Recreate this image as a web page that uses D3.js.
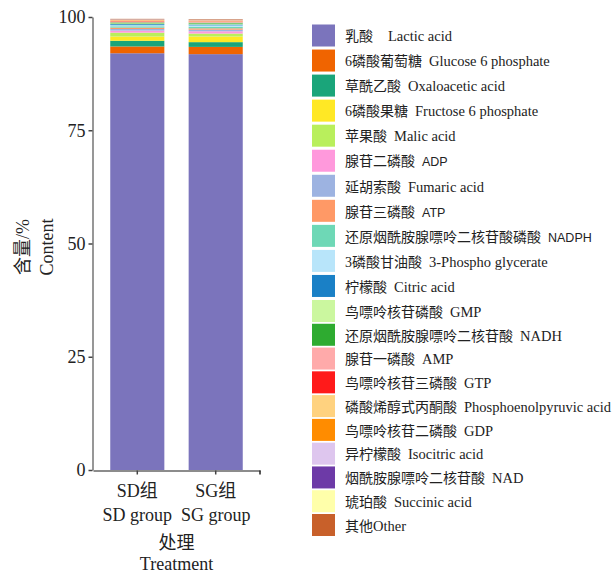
<!DOCTYPE html>
<html>
<head>
<meta charset="utf-8">
<script src="https://cdn.jsdelivr.net/npm/d3@7"></script>
<style>
  body { margin: 0; background: #fff; }
  svg { display: block; }
  .serif { font-family: "Liberation Serif", "DejaVu Serif", serif, "Noto Sans CJK SC"; }
  .sans { font-family: "Liberation Sans", Arial, sans-serif; }
</style>
</head>
<body>
<svg id="chart" width="615" height="573"></svg>
<script>
// Treatment groups
const groupsCn = ["SD组", "SG组"];
const groupsEn = ["SD group", "SG group"];

// Metabolites, bottom of the stack first
const namesCn = ["乳酸", "6磷酸葡萄糖", "草酰乙酸", "6磷酸果糖", "苹果酸", "腺苷二磷酸", "延胡索酸",
  "腺苷三磷酸", "还原烟酰胺腺嘌呤二核苷酸磷酸", "3磷酸甘油酸", "柠檬酸", "鸟嘌呤核苷磷酸",
  "还原烟酰胺腺嘌呤二核苷酸", "腺苷一磷酸", "鸟嘌呤核苷三磷酸", "磷酸烯醇式丙酮酸", "鸟嘌呤核苷二磷酸",
  "异柠檬酸", "烟酰胺腺嘌呤二核苷酸", "琥珀酸", "其他"];
const namesEn = ["Lactic acid", "Glucose 6 phosphate", "Oxaloacetic acid", "Fructose 6 phosphate",
  "Malic acid", "ADP", "Fumaric acid", "ATP", "NADPH", "3-Phospho glycerate", "Citric acid", "GMP",
  "NADH", "AMP", "GTP", "Phosphoenolpyruvic acid", "GDP", "Isocitric acid", "NAD", "Succinic acid", "Other"];
// English names set in a sans face in the legend
const sansNames = ["ADP", "ATP", "NADPH"];

const colors = ["#7b74bc", "#f06400", "#1aa57a", "#ffe825", "#b9ef5c", "#ff99dc", "#9db3e1",
  "#ff9966", "#6ed8b6", "#b8e5fa", "#1a80c6", "#cbf79f", "#2eab30", "#ffaaaa", "#ff1a1a",
  "#ffd27f", "#ff8c00", "#dec6ee", "#6d3aa7", "#ffffaa", "#c8602a"];

// Content (%) per metabolite
const sdValues = [92.0, 1.5, 1.25, 0.95, 0.85, 0.45, 0.35, 0.3, 0.3, 0.25, 0.22, 0.18,
  0.2, 0.18, 0.1, 0.12, 0.1, 0.08, 0.06, 0.05, 0.1];
const sgValues = [91.8, 1.6, 1.05, 1.25, 0.65, 0.5, 0.35, 0.3, 0.35, 0.3, 0.2, 0.2,
  0.2, 0.18, 0.1, 0.12, 0.1, 0.08, 0.06, 0.05, 0.1];

const yTicks = [0, 25, 50, 75, 100];

const svg = d3.select("#chart");

const keys = namesEn.map((d, i) => "m" + i);
const table = groupsCn.map((g, gi) => {
  const row = { group: g };
  const vals = gi === 0 ? sdValues : sgValues;
  keys.forEach((k, i) => row[k] = vals[i]);
  return row;
});

const x = d3.scaleBand().domain(groupsCn).range([93, 260]).paddingInner(0.31).paddingOuter(0.22);
const y = d3.scaleLinear().domain([0, 100]).range([470, 17]);
const color = d3.scaleOrdinal().domain(keys).range(colors);

const series = d3.stack().keys(keys)(table);

// stacked bars
svg.append("g").selectAll("g").data(series).join("g")
  .attr("fill", d => color(d.key))
  .selectAll("rect").data(d => d).join("rect")
  .attr("x", d => x(d.data.group))
  .attr("width", x.bandwidth())
  .attr("y", d => y(d[1]))
  .attr("height", d => Math.max(0, y(d[0]) - y(d[1])));

// y axis
const yAxis = svg.append("g").attr("transform", "translate(92.5,0)")
  .call(d3.axisLeft(y).tickValues(yTicks).tickSize(4).tickSizeOuter(0).tickPadding(3));
yAxis.attr("font-family", null).attr("font-size", null);
yAxis.select(".domain").attr("stroke", "#8c8c8c").attr("stroke-width", 1.8);
yAxis.selectAll(".tick line").attr("stroke", "#444").attr("stroke-width", 1.5);
yAxis.selectAll(".tick text").attr("class", "serif").attr("font-size", 18).attr("fill", "#222");

// x axis
const xAxis = svg.append("g").attr("transform", "translate(0,470.5)")
  .call(d3.axisBottom(x).tickSize(4).tickSizeOuter(0).tickFormat(""));
xAxis.select(".domain").attr("stroke", "#8c8c8c").attr("stroke-width", 1.8);
xAxis.selectAll(".tick line").attr("stroke", "#444").attr("stroke-width", 1.5);
xAxis.append("line").attr("x1", 260).attr("x2", 260).attr("y1", 0).attr("y2", 4)
  .attr("stroke", "#222").attr("stroke-width", 1.5);

// group labels
const gl = svg.append("g").attr("class", "serif").attr("font-size", 18)
  .attr("fill", "#222").attr("text-anchor", "middle");
groupsCn.forEach((g, i) => {
  const cx = x(g) + x.bandwidth() / 2;
  gl.append("text").attr("x", cx).attr("y", 497).text(g);
  gl.append("text").attr("x", cx).attr("y", 521).text(groupsEn[i]);
});
const midX = (93 + 260) / 2;
gl.append("text").attr("x", midX).attr("y", 549).text("处理");
gl.append("text").attr("x", midX).attr("y", 570).text("Treatment");

// y axis title
const yt = svg.append("g").attr("class", "serif").attr("font-size", 18)
  .attr("fill", "#222").attr("text-anchor", "middle");
yt.append("text").attr("transform", "translate(29,247) rotate(-90)").text("含量/%");
yt.append("text").attr("transform", "translate(53,247) rotate(-90)").text("Content");

// legend
const rowY = d3.scaleLinear().domain([0, 11, 20]).range([35.5, 311, 525]);
const legend = svg.append("g");
namesEn.forEach((name, i) => {
  const cy = rowY(i);
  legend.append("rect").attr("x", 312).attr("y", cy - 11).attr("width", 23).attr("height", 22)
    .attr("fill", colors[i]);
  const t = legend.append("text").attr("class", "serif").attr("x", 345).attr("y", cy)
    .attr("dy", "0.36em").attr("fill", "#222");
  t.append("tspan").attr("font-size", 14).text(namesCn[i]);
  const isSans = sansNames.includes(name);
  const gap = i === 0 ? 15 : (name === "Other" ? 0 : 7);
  t.append("tspan").attr("dx", gap)
    .attr("class", isSans ? "sans" : "serif")
    .attr("font-size", isSans ? 12.5 : 14.5)
    .text(name);
});
</script>
</body>
</html>
